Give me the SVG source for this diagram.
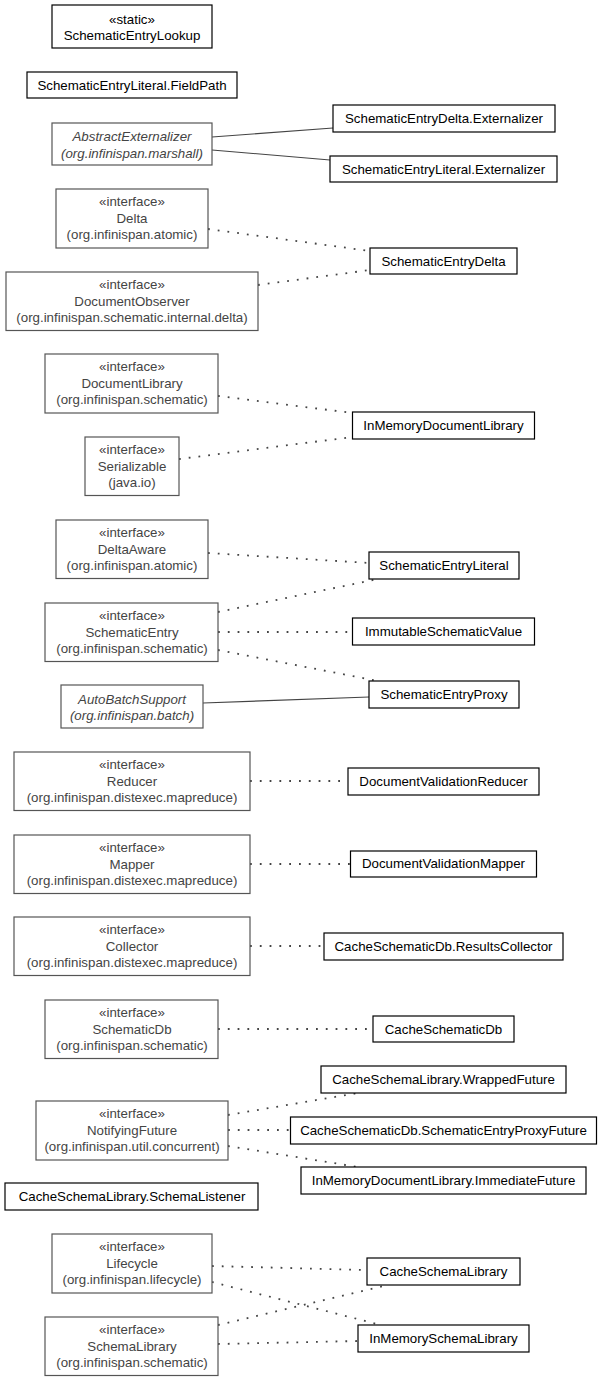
<svg xmlns="http://www.w3.org/2000/svg" width="605" height="1381" viewBox="0 0 605 1381">
<style>
text{font-family:"Liberation Sans",Arial,sans-serif;font-size:13.3px;text-anchor:middle}
.cls rect{fill:#fff;stroke:#000;stroke-width:1.2}
.cls text{fill:#000}
.ifc rect{fill:#fff;stroke:#555;stroke-width:1.2}
.ifc text{fill:#444}
.it text{font-style:italic}
.solid{stroke:#444;stroke-width:1.1;fill:none}
.dot{stroke:#444;stroke-width:1.8;fill:none;stroke-dasharray:1.8,8}
</style>
<rect width="605" height="1381" fill="#fff"/>
<g id="edges">
<path class="solid" d="M212,137 L333,128"/>
<path class="solid" d="M212,150 L330,160"/>
<path class="solid" d="M203,703 L369,697"/>
<path class="dot" d="M208,229 L370,251"/>
<path class="dot" d="M258,285 L370,270"/>
<path class="dot" d="M218,396 L352.5,413"/>
<path class="dot" d="M179,459 L352.5,437"/>
<path class="dot" d="M208,553 L369,563"/>
<path class="dot" d="M218,612 L378,579"/>
<path class="dot" d="M218,632 L352.5,632"/>
<path class="dot" d="M218,650 L378,681"/>
<path class="dot" d="M250,781 L348,781"/>
<path class="dot" d="M250,864 L350.5,864"/>
<path class="dot" d="M250,946 L324,946"/>
<path class="dot" d="M218,1029 L373,1029"/>
<path class="dot" d="M228,1115 L358,1093"/>
<path class="dot" d="M228,1130 L290.5,1130"/>
<path class="dot" d="M228,1146 L358,1167"/>
<path class="dot" d="M212,1266 L367,1270"/>
<path class="dot" d="M212,1282 L381,1325"/>
<path class="dot" d="M218,1325 L388,1285"/>
<path class="dot" d="M218,1344 L358,1341"/>
</g>
<g id="SchematicEntryLookup" class="cls"><rect x="52" y="5" width="160" height="43"/><text x="132" y="23.5">«static»</text><text x="132" y="40">SchematicEntryLookup</text></g>
<g id="FieldPath" class="cls"><rect x="27" y="72" width="210" height="26"/><text x="132" y="89.5">SchematicEntryLiteral.FieldPath</text></g>
<g id="AbstractExternalizer" class="ifc it"><rect x="52" y="123" width="160" height="42"/><text x="132" y="141">AbstractExternalizer</text><text x="132" y="157.5">(org.infinispan.marshall)</text></g>
<g id="Delta" class="ifc"><rect x="56" y="189" width="152" height="59"/><text x="132" y="206">«interface»</text><text x="132" y="222.5">Delta</text><text x="132" y="239">(org.infinispan.atomic)</text></g>
<g id="DocumentObserver" class="ifc"><rect x="6" y="272" width="252" height="58.5"/><text x="132" y="289">«interface»</text><text x="132" y="305.5">DocumentObserver</text><text x="132" y="322">(org.infinispan.schematic.internal.delta)</text></g>
<g id="DocumentLibrary" class="ifc"><rect x="45" y="354" width="173" height="59"/><text x="132" y="371">«interface»</text><text x="132" y="387.5">DocumentLibrary</text><text x="132" y="404">(org.infinispan.schematic)</text></g>
<g id="Serializable" class="ifc"><rect x="85" y="437" width="94" height="58.5"/><text x="132" y="454">«interface»</text><text x="132" y="470.5">Serializable</text><text x="132" y="487">(java.io)</text></g>
<g id="DeltaAware" class="ifc"><rect x="56" y="520" width="152" height="58.5"/><text x="132" y="537">«interface»</text><text x="132" y="553.5">DeltaAware</text><text x="132" y="570">(org.infinispan.atomic)</text></g>
<g id="SchematicEntry" class="ifc"><rect x="45" y="603" width="173" height="58.5"/><text x="132" y="620">«interface»</text><text x="132" y="636.5">SchematicEntry</text><text x="132" y="653">(org.infinispan.schematic)</text></g>
<g id="AutoBatchSupport" class="ifc it"><rect x="61" y="685" width="142" height="43"/><text x="132" y="703.5">AutoBatchSupport</text><text x="132" y="720">(org.infinispan.batch)</text></g>
<g id="Reducer" class="ifc"><rect x="14" y="752" width="236" height="58.5"/><text x="132" y="769">«interface»</text><text x="132" y="785.5">Reducer</text><text x="132" y="802">(org.infinispan.distexec.mapreduce)</text></g>
<g id="Mapper" class="ifc"><rect x="14" y="835" width="236" height="58.5"/><text x="132" y="852">«interface»</text><text x="132" y="868.5">Mapper</text><text x="132" y="885">(org.infinispan.distexec.mapreduce)</text></g>
<g id="Collector" class="ifc"><rect x="14" y="917" width="236" height="58.5"/><text x="132" y="934">«interface»</text><text x="132" y="950.5">Collector</text><text x="132" y="967">(org.infinispan.distexec.mapreduce)</text></g>
<g id="SchematicDb" class="ifc"><rect x="45" y="1000" width="173" height="58.5"/><text x="132" y="1017">«interface»</text><text x="132" y="1033.5">SchematicDb</text><text x="132" y="1050">(org.infinispan.schematic)</text></g>
<g id="NotifyingFuture" class="ifc"><rect x="36" y="1101" width="192" height="59"/><text x="132" y="1118">«interface»</text><text x="132" y="1134.5">NotifyingFuture</text><text x="132" y="1151">(org.infinispan.util.concurrent)</text></g>
<g id="SchemaListener" class="cls"><rect x="5" y="1183" width="253" height="27"/><text x="132" y="1201">CacheSchemaLibrary.SchemaListener</text></g>
<g id="Lifecycle" class="ifc"><rect x="52" y="1234" width="160" height="59"/><text x="132" y="1251">«interface»</text><text x="132" y="1267.5">Lifecycle</text><text x="132" y="1284">(org.infinispan.lifecycle)</text></g>
<g id="SchemaLibrary" class="ifc"><rect x="45" y="1317" width="173" height="58.5"/><text x="132" y="1334">«interface»</text><text x="132" y="1350.5">SchemaLibrary</text><text x="132" y="1367">(org.infinispan.schematic)</text></g>
<g id="SchematicEntryDeltaExternalizer" class="cls"><rect x="333" y="105" width="222" height="27"/><text x="444" y="123">SchematicEntryDelta.Externalizer</text></g>
<g id="SchematicEntryLiteralExternalizer" class="cls"><rect x="330" y="156" width="227" height="26"/><text x="443.5" y="173.5">SchematicEntryLiteral.Externalizer</text></g>
<g id="SchematicEntryDelta" class="cls"><rect x="370" y="248" width="147" height="26"/><text x="443.5" y="265.5">SchematicEntryDelta</text></g>
<g id="InMemoryDocumentLibrary" class="cls"><rect x="352.5" y="412" width="182" height="27"/><text x="443.5" y="429.5">InMemoryDocumentLibrary</text></g>
<g id="SchematicEntryLiteral" class="cls"><rect x="369" y="552" width="150" height="27"/><text x="444" y="569.5">SchematicEntryLiteral</text></g>
<g id="ImmutableSchematicValue" class="cls"><rect x="352.5" y="618" width="182" height="27"/><text x="443.5" y="635.5">ImmutableSchematicValue</text></g>
<g id="SchematicEntryProxy" class="cls"><rect x="369" y="681" width="150" height="27"/><text x="444" y="698.5">SchematicEntryProxy</text></g>
<g id="DocumentValidationReducer" class="cls"><rect x="348" y="768" width="191" height="27"/><text x="443.5" y="785.5">DocumentValidationReducer</text></g>
<g id="DocumentValidationMapper" class="cls"><rect x="350.5" y="851" width="186" height="26"/><text x="443.5" y="868">DocumentValidationMapper</text></g>
<g id="ResultsCollector" class="cls"><rect x="324" y="933" width="239" height="27"/><text x="443.5" y="950.5">CacheSchematicDb.ResultsCollector</text></g>
<g id="CacheSchematicDb" class="cls"><rect x="373" y="1016" width="141" height="26"/><text x="443.5" y="1033.5">CacheSchematicDb</text></g>
<g id="WrappedFuture" class="cls"><rect x="321" y="1066" width="245" height="27"/><text x="443.5" y="1083.5">CacheSchemaLibrary.WrappedFuture</text></g>
<g id="SchematicEntryProxyFuture" class="cls"><rect x="290.5" y="1117" width="306" height="27"/><text x="443.5" y="1134.5">CacheSchematicDb.SchematicEntryProxyFuture</text></g>
<g id="ImmediateFuture" class="cls"><rect x="301" y="1167" width="285" height="27"/><text x="443.5" y="1184.5">InMemoryDocumentLibrary.ImmediateFuture</text></g>
<g id="CacheSchemaLibrary" class="cls"><rect x="367" y="1258" width="153" height="27"/><text x="443.5" y="1275.5">CacheSchemaLibrary</text></g>
<g id="InMemorySchemaLibrary" class="cls"><rect x="358" y="1325" width="171" height="27"/><text x="443.5" y="1342.5">InMemorySchemaLibrary</text></g>
</svg>
